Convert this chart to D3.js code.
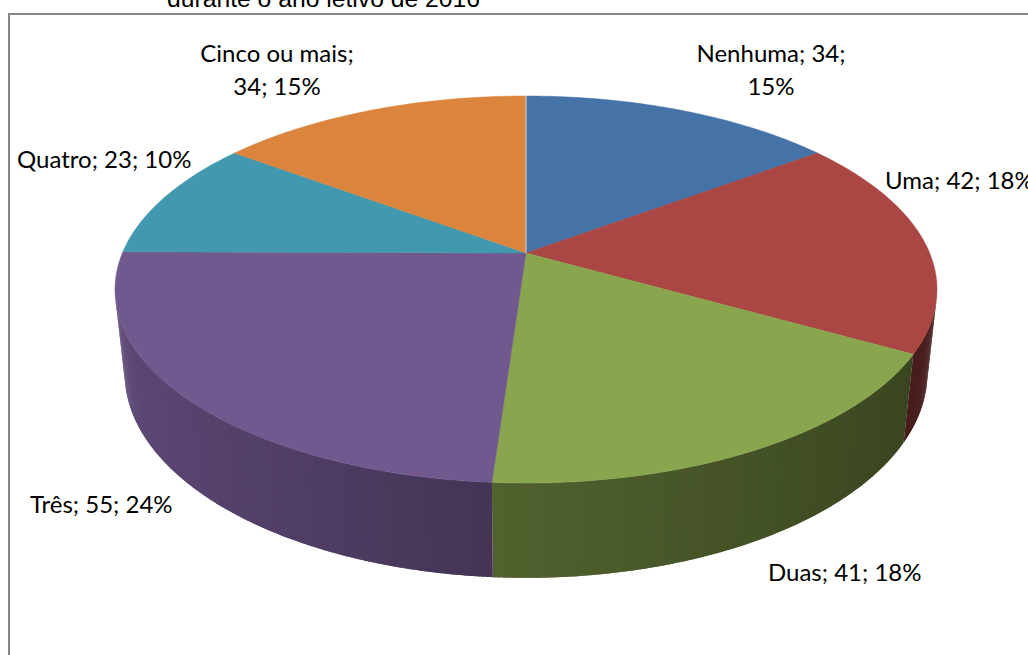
<!DOCTYPE html>
<html>
<head>
<meta charset="utf-8">
<script src="https://cdn.jsdelivr.net/npm/d3@7"></script>
<style>
  html, body { margin: 0; padding: 0; background: #ffffff; }
  svg { display: block; }
</style>
</head>
<body>
<script>
// Number of occurrences during the 2016 school year
const categories = ["Nenhuma", "Uma", "Duas", "Três", "Quatro", "Cinco ou mais"];
const counts = [34, 42, 41, 55, 23, 34];
const percentLabels = ["15%", "18%", "18%", "24%", "10%", "15%"];
const sliceColors = ["#4572A7", "#AA4643", "#89A54E", "#71588F", "#4198AF", "#DB843D"];
const titleText = "durante o ano letivo de 2016";

// Data-label layout (text lines are built from the data above)
const labelLayout = [
  { x: 771, y: 62, anchor: "middle", split: 2 },
  { x: 885, y: 189, anchor: "start", split: 0 },
  { x: 768, y: 581, anchor: "start", split: 0 },
  { x: 30, y: 513, anchor: "start", split: 0 },
  { x: 17, y: 168, anchor: "start", split: 0 },
  { x: 277, y: 62, anchor: "middle", split: 1 }
];

const W = 1028, H = 655;
const svg = d3.select("body").append("svg").attr("width", W).attr("height", H);

// Chart frame
svg.append("rect")
  .attr("x", 9).attr("y", 14)
  .attr("width", W + 20).attr("height", H + 20)
  .attr("fill", "#ffffff")
  .attr("stroke", "#878787").attr("stroke-width", 2);

// Title (only its last line falls inside the page)
svg.append("text")
  .attr("x", 323.5).attr("y", 7)
  .attr("text-anchor", "middle")
  .attr("font-family", "'Liberation Sans', Arial, sans-serif")
  .attr("font-size", 24.7)
  .attr("fill", "#000")
  .text(titleText);

// Perspective camera for the 3D pie (unit radius disc, z up)
const cam = { f: 1897, L: 4.70, tilt: Math.asin(0.4624), cx: 526, cy: 253 };
const sT = Math.sin(cam.tilt), cT = Math.cos(cam.tilt);
const depth = 0.236;

function project(a, r, z) {
  const x = r * Math.sin(a), y = r * Math.cos(a);
  const zc = cam.L + y * cT - z * sT;
  const yc = y * sT + z * cT;
  return [cam.cx + cam.f * x / zc, cam.cy - cam.f * yc / zc];
}

const pie = d3.pie().sort(null).value(d => d)
  .startAngle(0).endAngle(2 * Math.PI);
const arcs = pie(counts);

// Shading of the side wall as a function of the wall normal's x component
const shade = d3.scaleLinear().domain([-1, 0, 1]).range([0.84, 0.58, 0.40]).clamp(true);
function shadeColor(base, a) {
  const c = d3.rgb(base);
  const k = shade(Math.sin(a));
  return d3.rgb(c.r * k, c.g * k, c.b * k).formatHex();
}

const line = d3.line();
const step = Math.PI / 360;
const sideG = svg.append("g");

// Side walls: only the parts whose outward normal faces the camera.
// Each strip overlaps the next a little so no seams show.
arcs.forEach((d, i) => {
  for (let a = d.startAngle; a < d.endAngle - 1e-9; a += step) {
    const b = Math.min(a + step, d.endAngle);
    const m = (a + b) / 2;
    if (-cam.L * cT * Math.cos(m) - 1 <= 0) continue;
    const bx = Math.min(b + step * 0.8, d.endAngle);
    const pts = [project(a, 1, 0), project(bx, 1, 0), project(bx, 1, -depth), project(a, 1, -depth)];
    sideG.append("path")
      .attr("d", line(pts) + "Z")
      .attr("fill", shadeColor(sliceColors[i], m));
  }
});

// Top faces
const topG = svg.append("g");
arcs.forEach((d, i) => {
  const pts = [project(0, 0, 0)];
  const n = Math.max(8, Math.ceil((d.endAngle - d.startAngle) / (Math.PI / 180)));
  for (let k = 0; k <= n; k++) {
    const a = d.startAngle + (d.endAngle - d.startAngle) * k / n;
    pts.push(project(a, 1, 0));
  }
  topG.append("path")
    .attr("d", line(pts) + "Z")
    .attr("fill", sliceColors[i])
    .attr("stroke", sliceColors[i])
    .attr("stroke-width", 0.5)
    .attr("stroke-linejoin", "round");
});

// Thin light seam at the 12 o'clock cut
const seam = [project(0, 0, 0), project(0, 1, 0)];
svg.append("path").attr("d", line(seam)).attr("stroke", "#c9d3e3").attr("stroke-width", 1);

// Data labels: "Category; value; percent"
const labelG = svg.append("g")
  .attr("font-family", "Lato, 'Open Sans', sans-serif")
  .attr("font-size", 24)
  .attr("fill", "#000");

categories.forEach((cat, i) => {
  const parts = [cat, String(counts[i]), percentLabels[i]];
  const lay = labelLayout[i];
  let lines;
  if (lay.split === 1) lines = [parts[0] + ";", parts[1] + "; " + parts[2]];
  else if (lay.split === 2) lines = [parts[0] + "; " + parts[1] + ";", parts[2]];
  else lines = [parts.join("; ")];
  const t = labelG.append("text")
    .attr("x", lay.x).attr("y", lay.y)
    .attr("text-anchor", lay.anchor);
  lines.forEach((ln, j) => {
    t.append("tspan").attr("x", lay.x).attr("y", lay.y + j * 33).text(ln);
  });
});
</script>
</body>
</html>
